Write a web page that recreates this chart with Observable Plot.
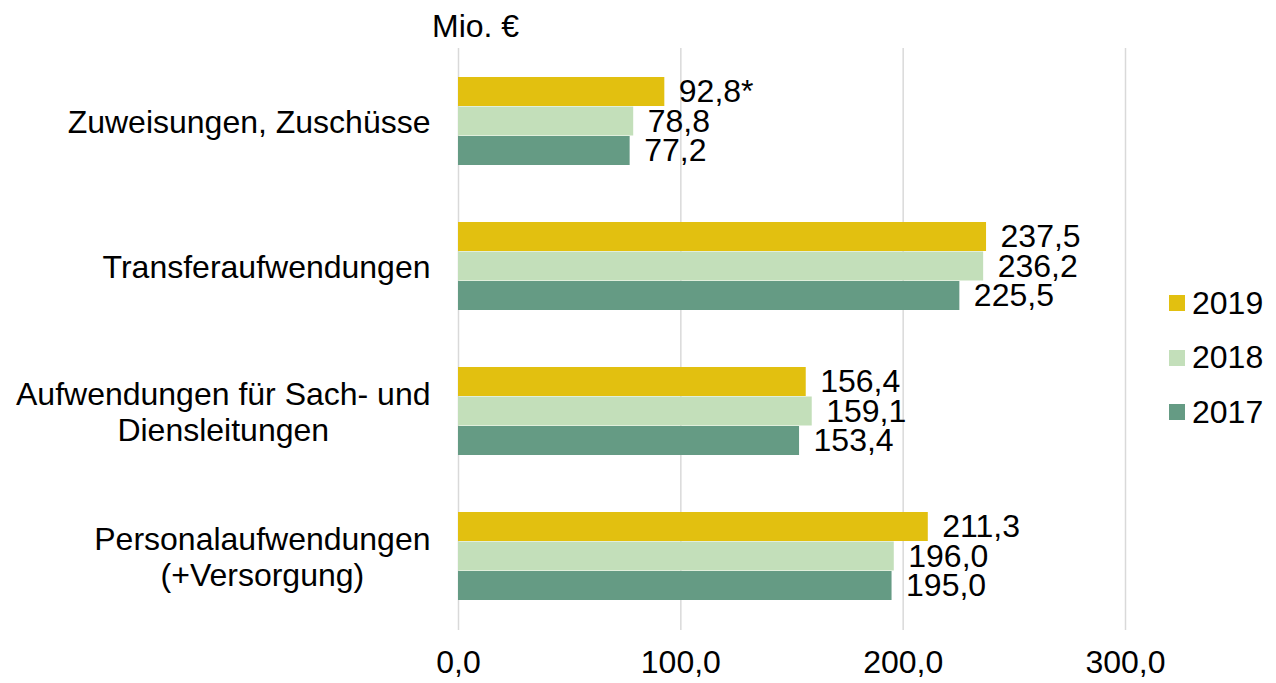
<!DOCTYPE html>
<html>
<head>
<meta charset="utf-8">
<script src="https://cdn.jsdelivr.net/npm/d3@7"></script>
<script src="https://cdn.jsdelivr.net/npm/@observablehq/plot@0.6"></script>
<style>
  html, body { margin: 0; padding: 0; background: #fff; }
  #wrap { position: relative; width: 1276px; height: 683px; font-family: "Liberation Sans", Arial, sans-serif; color: #000; }
  #unit { position: absolute; left: 432px; top: 6px; font-size: 32px; line-height: 40px; }
  #legend { position: absolute; left: 1169px; top: 276px; font-size: 32px; }
  #legend .row { display: flex; align-items: center; height: 54.5px; }
  #legend .sw { width: 16px; height: 16px; margin-right: 7px; }
</style>
</head>
<body>
<div id="wrap">
  <div id="unit">Mio. €</div>
  <div id="legend"></div>
</div>
<script>
const categories = [
  "Zuweisungen, Zuschüsse",
  "Transferaufwendungen",
  "Aufwendungen für Sach- und\nDiensleitungen",
  "Personalaufwendungen\n(+Versorgung)"
];
const years = ["2019", "2018", "2017"];
const values2019 = [92.8, 237.5, 156.4, 211.3];
const values2018 = [78.8, 236.2, 159.1, 196.0];
const values2017 = [77.2, 225.5, 153.4, 195.0];
const notes2019 = ["*", "", "", ""];
const xTicks = [0, 100, 200, 300];
const colors = {"2019": "#E2C010", "2018": "#C3DFBA", "2017": "#659B84"};

const fmt = v => v.toFixed(1).replace(".", ",");
const series = {
  "2019": categories.map((c, i) => ({category: c, value: values2019[i], label: fmt(values2019[i]) + notes2019[i]})),
  "2018": categories.map((c, i) => ({category: c, value: values2018[i], label: fmt(values2018[i])})),
  "2017": categories.map((c, i) => ({category: c, value: values2017[i], label: fmt(values2017[i])}))
};

const bw = 88.5; // band height split into three years
const third = bw / 3;
const insets = {"2019": [0, 2 * third], "2018": [third, third], "2017": [2 * third, 0]};
const dys = {"2019": -third, "2018": 0, "2017": third};
const FS = 32;

const marks = [
  Plot.ruleX(xTicks, {x: d => d, stroke: "#d9d9d9", strokeWidth: 1.5})
];
for (const yr of years) {
  marks.push(Plot.barX(series[yr], {
    x: "value", y: "category", fill: colors[yr],
    insetTop: insets[yr][0], insetBottom: insets[yr][1]
  }));
}
for (const yr of years) {
  marks.push(Plot.text(series[yr], {
    x: "value", y: "category", text: "label", dx: 14, dy: dys[yr],
    textAnchor: "start", fill: "#000", fontSize: FS
  }));
}
marks.push(Plot.text(categories, {
  y: d => d, text: d => d, frameAnchor: "left", dx: -28, textAnchor: "end",
  lineHeight: 1.12, fontSize: FS, fill: "#000"
}));
marks.push(Plot.axisX({
  ticks: xTicks, tickSize: 0, tickPadding: 20, tickFormat: fmt, fontSize: FS, fill: "#000", label: null
}));

const chart = Plot.plot({
  width: 1276, height: 683,
  marginLeft: 458, marginRight: 151, marginTop: 48, marginBottom: 53,
  style: {fontFamily: "Liberation Sans, Arial, sans-serif", fontSize: FS + "px", color: "#000", background: "transparent", overflow: "visible"},
  x: {domain: [0, 300], label: null},
  y: {domain: categories, paddingInner: 0.39, paddingOuter: 0.2, axis: null},
  marks
});
const wrap = document.getElementById("wrap");
wrap.insertBefore(chart, wrap.firstChild);

// center multi-line category labels within their right-aligned block
chart.querySelectorAll("text").forEach(t => {
  const spans = t.querySelectorAll("tspan");
  if (spans.length > 1) {
    let w = 0;
    spans.forEach(s => { w = Math.max(w, s.getComputedTextLength()); });
    t.setAttribute("text-anchor", "middle");
    spans.forEach(s => { s.setAttribute("x", -w / 2); s.setAttribute("text-anchor", "middle"); });
  }
});

const legend = document.getElementById("legend");
for (const yr of years) {
  const row = document.createElement("div");
  row.className = "row";
  const sw = document.createElement("div");
  sw.className = "sw";
  sw.style.background = colors[yr];
  const lab = document.createElement("span");
  lab.textContent = yr;
  row.appendChild(sw);
  row.appendChild(lab);
  legend.appendChild(row);
}
</script>
</body>
</html>
